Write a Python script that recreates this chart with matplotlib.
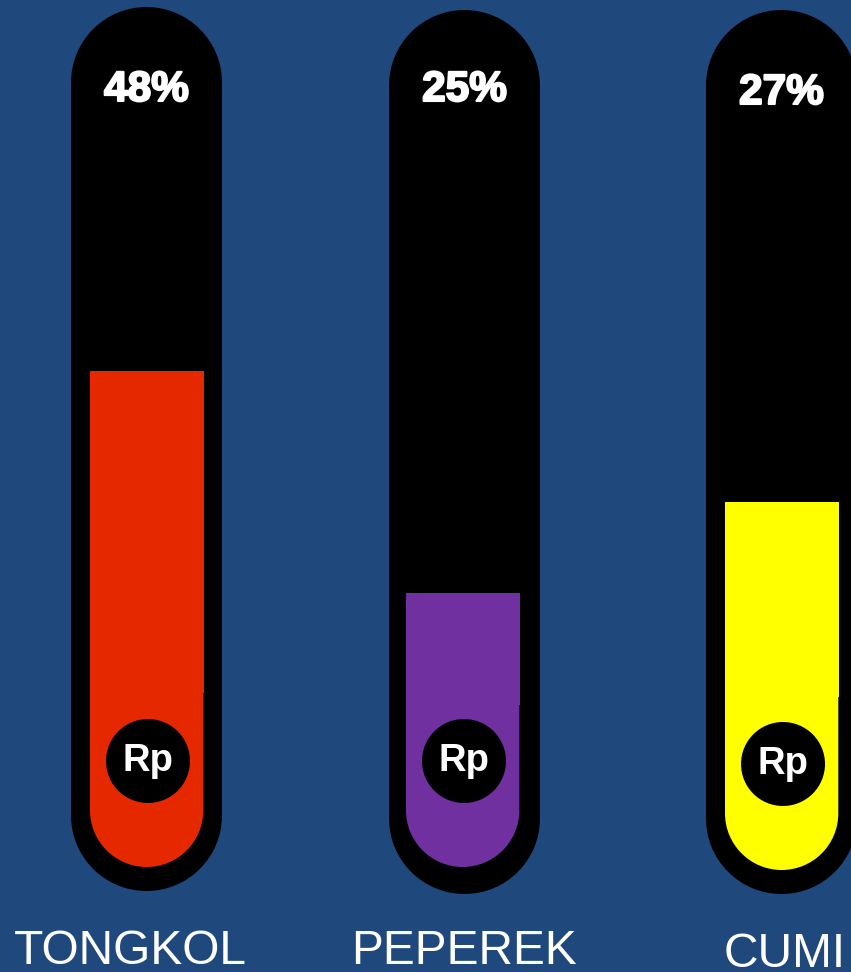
import matplotlib
matplotlib.use('Agg')
import matplotlib.pyplot as plt
from matplotlib.patches import Rectangle, Circle, PathPatch
from matplotlib.path import Path
import matplotlib.patheffects as pe

plt.rcParams['font.family'] = ['Liberation Sans', 'DejaVu Sans']

categories = ['TONGKOL', 'PEPEREK', 'CUMI']
percent_labels = ['48%', '25%', '27%']
fill_tops = [371, 593, 502]
fill_colors = ['#e62800', '#7030a0', '#ffff00']

BG = '#1f497d'

fig = plt.figure(figsize=(8.51, 9.72), dpi=100, facecolor=BG)
ax = fig.add_axes([0, 0, 1, 1])
ax.set_xlim(0, 851)
ax.set_ylim(972, 0)
ax.axis('off')

# tube geometry per category: left, right, top, bottom
tubes = [(71, 222, 7, 891), (389, 540, 10, 894), (706, 857, 10, 894)]
# fill: left, right, bottom, y where the narrower bottom piece starts
fills = [(90, 204, 867, 693), (406, 520, 867, 705), (725, 839, 870, 697)]
label_x = [130, 464, 785]
label_base = [964, 964, 967]
pct_base = [101, 101, 104]
rp_y = [761, 761, 764]

K = 0.5523


def u_shape(left, right, top, bottom):
    # flat top, round bottom
    r = (right - left) / 2
    k = K * r
    verts = [(left, top), (right, top), (right, bottom - r),
             (right, bottom - r + k), (right - r + k, bottom), (right - r, bottom),
             (left + r - k, bottom), (left, bottom - r + k), (left, bottom - r),
             (left, top)]
    codes = [Path.MOVETO, Path.LINETO, Path.LINETO,
             Path.CURVE4, Path.CURVE4, Path.CURVE4,
             Path.CURVE4, Path.CURVE4, Path.CURVE4,
             Path.CLOSEPOLY]
    return Path(verts, codes)


def stadium(left, right, top, bottom):
    # round at both ends
    r = (right - left) / 2
    k = K * r
    verts = [(left, top + r),
             (left, top + r - k), (left + r - k, top), (left + r, top),
             (right - r + k, top), (right, top + r - k), (right, top + r),
             (right, bottom - r),
             (right, bottom - r + k), (right - r + k, bottom), (right - r, bottom),
             (left + r - k, bottom), (left, bottom - r + k), (left, bottom - r),
             (left, top + r)]
    codes = [Path.MOVETO,
             Path.CURVE4, Path.CURVE4, Path.CURVE4,
             Path.CURVE4, Path.CURVE4, Path.CURVE4,
             Path.LINETO,
             Path.CURVE4, Path.CURVE4, Path.CURVE4,
             Path.CURVE4, Path.CURVE4, Path.CURVE4,
             Path.CLOSEPOLY]
    return Path(verts, codes)


for i, name in enumerate(categories):
    l, r, t, b = tubes[i]
    ax.add_patch(PathPatch(stadium(l, r, t, b), fc='black', ec='none'))

    fl, fr, fb, seam = fills[i]
    ax.add_patch(Rectangle((fl, fill_tops[i]), fr - fl, seam - fill_tops[i],
                           fc=fill_colors[i], ec='none'))
    ax.add_patch(PathPatch(u_shape(fl, fr - 0.7, seam, fb), fc=fill_colors[i], ec='none'))

    cx = (fl + fr) / 2 + 1
    ax.add_patch(Circle((cx, rp_y[i]), 42, fc='black', ec='none'))
    ax.text(cx, rp_y[i] + 10, 'Rp', color='white', fontsize=27.5, fontweight='bold',
            ha='center', va='baseline')

    ax.text((l + r) / 2, pct_base[i], percent_labels[i], color='white', fontsize=30.5,
            fontweight='bold', ha='center', va='baseline',
            path_effects=[pe.withStroke(linewidth=1.5, foreground='white')])

    ax.text(label_x[i], label_base[i], name, color='white', fontsize=34.5,
            ha='center', va='baseline')

fig.savefig('out.png', dpi=100, facecolor=BG)
